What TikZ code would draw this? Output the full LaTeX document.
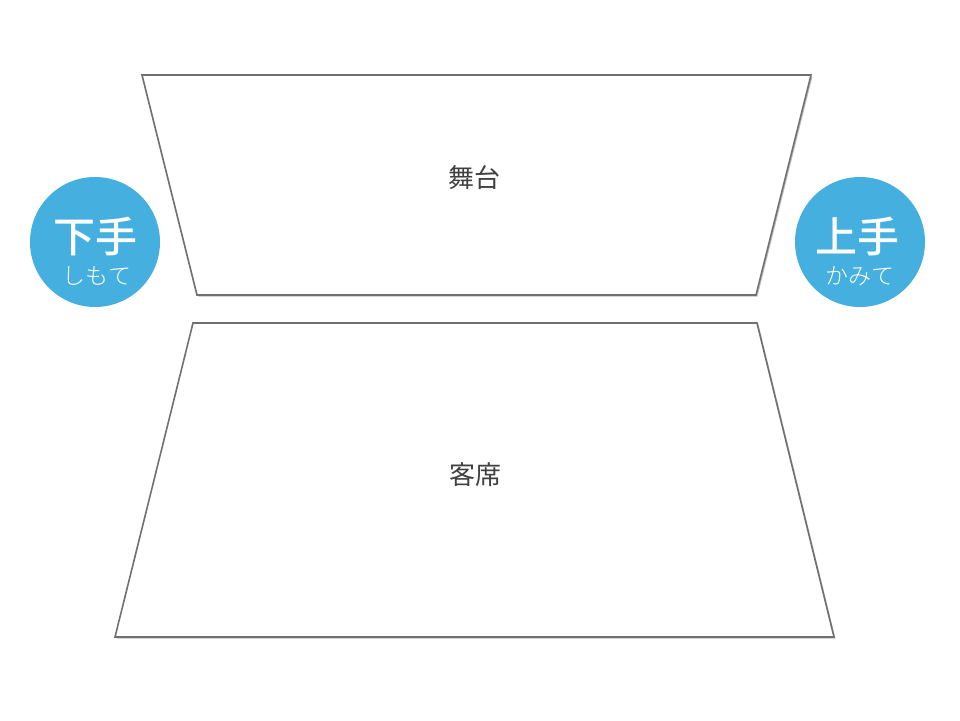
\documentclass[tikz,border=0pt]{standalone}
\usepackage{fontspec}
\newfontfamily\cjk{Noto Sans CJK JP}
\newfontfamily\cjkb{Noto Sans CJK JP Medium}
\newfontfamily\cjkl{Noto Sans CJK JP Light}
\usetikzlibrary{shadows}
\definecolor{edgegray}{HTML}{707070}
\definecolor{txtgray}{HTML}{404040}
\definecolor{sideblue}{HTML}{45B0E0}
\tikzset{
  area/.style={draw=edgegray, line width=1.6pt, fill=white, line join=miter,
    drop shadow={shadow xshift=1.5pt, shadow yshift=-1.5pt, fill=black, opacity=0.25}},
  arealabel/.style={font=\cjk\fontsize{26}{30}\selectfont, text=txtgray},
  sidecircle/.style={circle, fill=sideblue, minimum size=130pt, inner sep=0pt},
  bigtxt/.style={font=\cjkb\fontsize{42}{46}\selectfont, text=white},
  smalltxt/.style={font=\cjkl\fontsize{23}{26}\selectfont, text=white}
}
\begin{document}
\begin{tikzpicture}[x=1pt,y=-1pt]
\useasboundingbox[fill=white] (0,0) rectangle (960,720);
\draw[area] (142,75) -- (811,75) -- (756,295) -- (197,295) -- cycle;
\draw[area] (193,323) -- (757,323) -- (834,637) -- (115,637) -- cycle;
\node[arealabel] (stage) at (474,178) {舞台};
\node[arealabel] (seats) at (475,475) {客席};
\node[sidecircle] (left) at (95,242) {};
\node[sidecircle] (right) at (860,242) {};
\node[bigtxt] (lbig) at (95,236) {下手};
\node[smalltxt] (lsmall) at (97,276) {しもて};
\node[bigtxt] (rbig) at (857,236) {上手};
\node[smalltxt] (rsmall) at (860,276) {かみて};
\end{tikzpicture}
\end{document}
